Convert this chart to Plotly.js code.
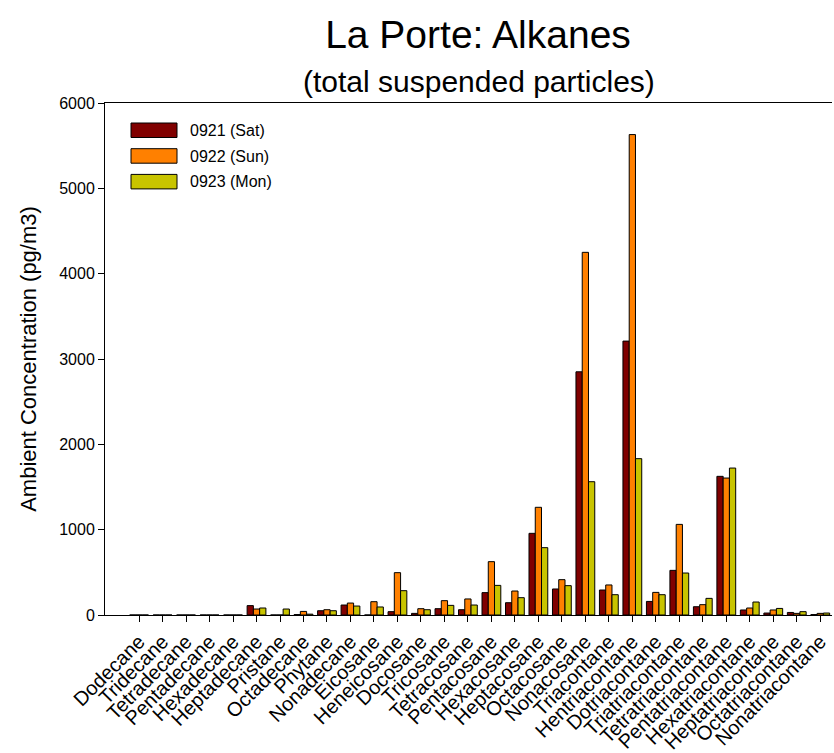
<!DOCTYPE html>
<html>
<head>
<meta charset="utf-8">
<script src="https://cdn.plot.ly/plotly-3.0.1.min.js"></script>
<style>html,body{margin:0;padding:0;background:#fff;}#chart{width:834px;height:753px;}</style>
</head>
<body>
<div id="chart"></div>
<script>
const categories = ["Dodecane","Tridecane","Tetradecane","Pentadecane","Hexadecane","Heptadecane","Pristane","Octadecane","Phytane","Nonadecane","Eicosane","Heneicosane","Docosane","Tricosane","Tetracosane","Pentacosane","Hexacosane","Heptacosane","Octacosane","Nonacosane","Triacontane","Hentriacontane","Dotriacontane","Triatriacontane","Tetratriacontane","Pentatriacontane","Hexatriacontane","Heptatriacontane","Octatriacontane","Nonatriacontane"];
const seriesNames = ["0921 (Sat)","0922 (Sun)","0923 (Mon)"];
const sat = [0,0,0,0,0,110,0,5,50,117,0,39,19,74,62,262,144,957,305,2850,293,3210,159,523,97,1625,59,23,30,5];
const sun = [0,0,0,0,0,70,0,42,62,140,156,496,74,168,188,625,281,1262,414,4250,352,5630,265,1062,121,1605,82,59,19,19];
const mon = [0,0,0,0,0,82,70,10,50,105,94,285,62,113,117,347,203,789,344,1562,238,1832,238,492,195,1722,152,77,39,23];
const yTicks = [0,1000,2000,3000,4000,5000,6000];
const colors = ["#800000","#ff8000","#c8c400"];

const seriesValues = [sat, sun, mon];
const xIdx = categories.map((c,i)=>i);
const traces = seriesValues.map((vals, k) => ({
  type: "bar",
  name: seriesNames[k],
  x: xIdx,
  y: vals,
  marker: {color: colors[k], line: {color: "#000", width: 1}},
  showlegend: false
}));

const FONT = "Liberation Sans, Arial, sans-serif";
const shapes = [];
const annotations = [];
seriesNames.forEach((n, k) => {
  const y0 = 123 + k*25.7;
  shapes.push({type:"rect", xref:"paper", yref:"paper",
    x0:(131-105)/727, x1:(177-105)/727,
    y0:1-(y0+14.5-103)/512, y1:1-(y0-103)/512,
    fillcolor:colors[k], line:{color:"#000", width:1}});
  annotations.push({xref:"paper", yref:"paper", x:(188-105)/727, y:1-(y0+7.3-103)/512,
    xanchor:"left", yanchor:"middle", text:n, showarrow:false,
    font:{family:FONT, size:16, color:"#000"}});
});
annotations.push({xref:"paper", yref:"paper", x:(479-105)/727, y:1+(103-81)/512, xanchor:"center", yanchor:"middle",
  text:"(total suspended particles)", showarrow:false, font:{family:FONT, size:30, color:"#000"}});

const layout = {
  width: 834, height: 753,
  margin: {l:105, r:2, t:103, b:138},
  paper_bgcolor: "#fff", plot_bgcolor: "#fff",
  font: {family: FONT, color: "#000"},
  title: {text: "La Porte: Alkanes", font:{family:FONT, size:39, color:"#000"}, x:(478)/834, xanchor:"center", y:1-34/753, yanchor:"middle"},
  barmode: "group", bargap: 0.2, bargroupgap: 0,
  xaxis: {
    range: [-1.45, 29.5], tickmode: "array", tickvals: xIdx, ticktext: categories,
    tickangle: -45, ticks: "outside", ticklen: 6, tickwidth: 1, tickcolor: "#000",
    showline: true, linecolor: "#000", linewidth: 1, mirror: true,
    showgrid: false, zeroline: false, tickfont: {family:FONT, size:20, color:"#000"}
  },
  yaxis: {
    range: [0, 6000], tickmode: "array", tickvals: yTicks, ticktext: yTicks.map(String),
    ticks: "outside", ticklen: 6, tickwidth: 1, tickcolor: "#000",
    showline: true, linecolor: "#000", linewidth: 1,
    showgrid: false, zeroline: false, tickfont: {family:FONT, size:16, color:"#000"},
    title: {text: "Ambient Concentration (pg/m3)", font:{family:FONT, size:22, color:"#000"}, standoff: 16}
  },
  shapes: shapes,
  annotations: annotations
};
Plotly.newPlot("chart", traces, layout, {displayModeBar:false, staticPlot:true});
</script>
</body>
</html>
